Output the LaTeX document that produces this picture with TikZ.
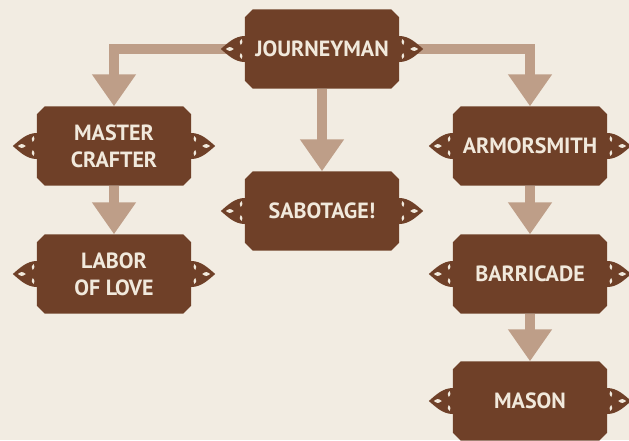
\documentclass[tikz,border=0pt]{standalone}
\usepackage{fontspec}
\setsansfont{PT Sans}
\usetikzlibrary{arrows.meta}

\definecolor{parchment}{HTML}{F2ECE2}
\definecolor{plaque}{HTML}{6F4028}
\definecolor{link}{HTML}{BE9E88}
\definecolor{ink}{HTML}{F1E9DC}

\pgfdeclarelayer{bg}
\pgfdeclarelayer{links}
\pgfdeclarelayer{plates}
\pgfsetlayers{bg,links,plates,main}

\tikzset{
  perk/.style={rectangle, text=ink, draw=none,
    minimum width=154pt, minimum height=79pt, inner sep=0pt,
    align=center, font=\sffamily\bfseries\fontsize{22}{27}\selectfont},
  unlock/.style={link, line width=10pt,
    -{Triangle[width=42pt,length=32pt]}},
  pics/knot/.style={code={
    \fill[plaque] (2,-13) -- (0,-13) .. controls (-10,-13) and (-17,-6) ..
      (-24,0) .. controls (-17,6) and (-10,13) .. (0,13) -- (2,13) -- cycle;
    \fill[ink] (-19,0) .. controls (-15,-2.6) .. (-11,0)
      .. controls (-15,2.6) .. cycle;
    \fill[ink] (-3,-10) .. controls (-5.5,-7.5) .. (-4,-4)
      .. controls (-2,-7) .. cycle;
    \fill[ink] (-3,10) .. controls (-5.5,7.5) .. (-4,4)
      .. controls (-2,7) .. cycle;
  }}
}

\begin{document}
\begin{tikzpicture}[x=1pt,y=-1pt]
\useasboundingbox (0,0) rectangle (629,440);
\begin{pgfonlayer}{bg}
  \fill[parchment] (0,0) rectangle (629,440);
\end{pgfonlayer}

% Plaques
\node[perk] (jm) at (322,49) {JOURNEYMAN};
\node[perk] (mc) at (114,146) {MASTER\\CRAFTER};
\node[perk] (sb) at (322,211) {SABOTAGE!};
\node[perk] (lb) at (114,274) {LABOR\\OF LOVE};
\node[perk] (ar) at (530,146) {ARMORSMITH};
\node[perk] (br) at (530,274) {BARRICADE};
\node[perk] (ms) at (530,401) {MASON};

% Plates with clipped corners, and side knots
\begin{pgfonlayer}{plates}
\foreach \n in {jm,mc,sb,lb,ar,br,ms} {
  \fill[plaque] ([xshift=8pt]\n.north west) -- ([xshift=-8pt]\n.north east)
    -- ([yshift=-8pt]\n.north east) -- ([yshift=8pt]\n.south east)
    -- ([xshift=-8pt]\n.south east) -- ([xshift=8pt]\n.south west)
    -- ([yshift=8pt]\n.south west) -- ([yshift=-8pt]\n.north west) -- cycle;
  \pic at (\n.west) {knot};
  \pic[xscale=-1] at (\n.east) {knot};
}
\end{pgfonlayer}

% Links
\begin{pgfonlayer}{links}
  \draw[unlock] (jm.west) -| (mc.north);
  \draw[unlock] (jm.east) -| (ar.north);
  \draw[unlock] (jm.south) -- (sb.north);
  \draw[unlock] (mc.south) -- (lb.north);
  \draw[unlock] (ar.south) -- (br.north);
  \draw[unlock] (br.south) -- (ms.north);
\end{pgfonlayer}
\end{tikzpicture}
\end{document}
